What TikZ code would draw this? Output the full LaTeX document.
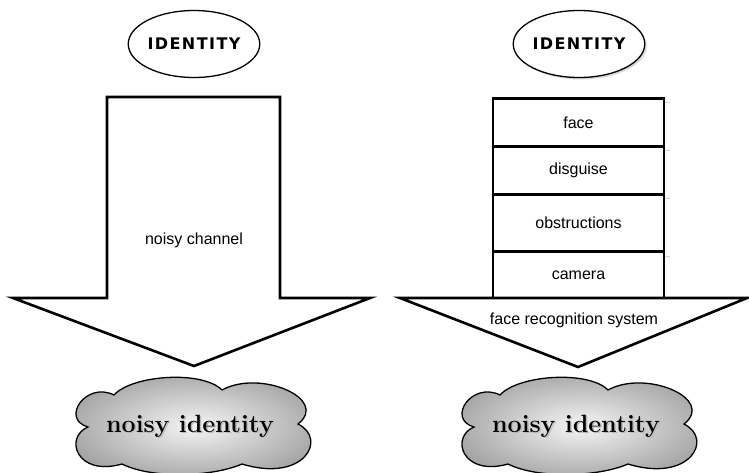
\documentclass[tikz,border=0pt]{standalone}
\usepackage{fontspec}
\setmainfont{Liberation Sans}
\newfontfamily\idfont[LetterSpace=9]{DejaVu Sans}
\newfontfamily\noisyfont{Latin Modern Roman}
\usetikzlibrary{shapes.geometric,shadows}
\newcommand\shadowedtext[1]{\makebox[0pt][l]{\hspace{1.5pt}\raisebox{-1.5pt}{\color{gray!55}#1}}#1}
\tikzset{
  idell/.style={ellipse, draw, line width=1.3pt, minimum width=125pt, minimum height=67pt,
    inner sep=0pt, fill=white, font=\idfont\bfseries\fontsize{16}{19}\selectfont},
  arrowline/.style={line width=2.6pt, line join=miter, fill=white},
  rowbox/.style={rectangle, draw, line width=2.6pt, minimum width=171pt, inner sep=0pt,
    anchor=north, font=\fontsize{16}{19}\selectfont},
  lbl/.style={font=\fontsize{16}{19}\selectfont},
  cloudline/.style={draw=black, line width=1.3pt, inner color=gray!8, outer color=gray!72},
  noisy/.style={font=\noisyfont\bfseries\fontsize{25}{30}\selectfont},
  tick/.style={gray!35, line width=1pt},
  cloudpath/.pic={
    \path[cloudline] (-102,0)
      .. controls (-130,-8) and (-104,-46) .. (-76,-32)
      .. controls (-58,-52) and (12,-57) .. (32,-37)
      .. controls (70,-58) and (140,-28) .. (108,-3)
      .. controls (138,12) and (114,56) .. (52,37)
      .. controls (22,50) and (-38,52) .. (-68,37)
      .. controls (-114,50) and (-126,10) .. (-102,0) -- cycle;
  }
}
\begin{document}
\begin{tikzpicture}[x=1pt,y=-1pt]
\useasboundingbox (0,0) rectangle (749,472);

% left side
\node[idell] (idl) at (194,44) {IDENTITY};
\draw[arrowline] (107,97) -- (280,97) -- (280,298) -- (370,298) -- (194,366) -- (13,298) -- (107,298) -- cycle;
\node[lbl] (chan) at (194,240) {noisy channel};
\pic at (190,427) {cloudpath};
\node[noisy] (nl) at (190,427) {\shadowedtext{noisy identity}};

% right side
\node[idell, drop shadow={shadow xshift=2pt, shadow yshift=-2pt, fill=gray!60}] (idr) at (579,44) {IDENTITY};
\node[rowbox, minimum height=48pt] (face) at (578.5,97) {face};
\node[rowbox, minimum height=48pt] (disg) at (578.5,145) {disguise};
\node[rowbox, minimum height=57pt] (obst) at (578.5,193) {obstructions};
\node[rowbox, minimum height=48pt] (cam) at (578.5,250) {camera};
\draw[arrowline] (400,298) -- (747,298) -- (578,367) -- cycle;
\node[lbl] (frs) at (574,320) {face recognition system};
\draw[tick] (665,102) -- (670,102);
\draw[tick] (665,150) -- (670,150);
\draw[tick] (665,198) -- (670,198);
\draw[tick] (665,256) -- (670,256);
\pic at (576,427) {cloudpath};
\node[noisy] (nr) at (576,427) {\shadowedtext{noisy identity}};
\end{tikzpicture}
\end{document}
